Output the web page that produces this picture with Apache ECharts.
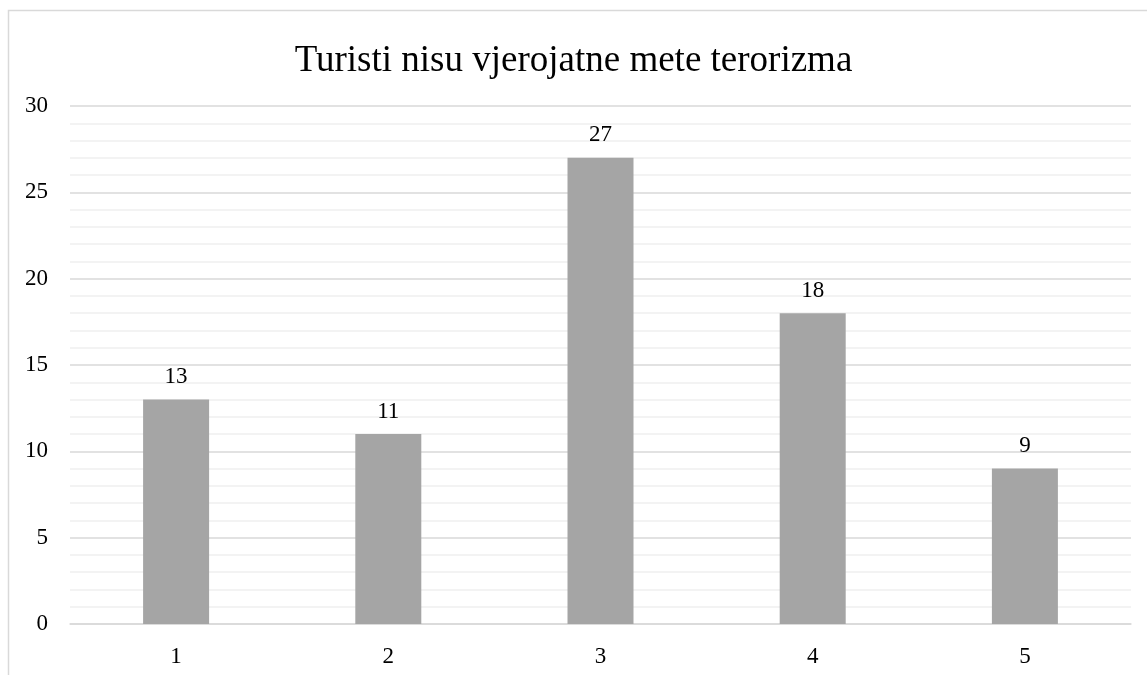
<!DOCTYPE html>
<html>
<head>
<meta charset="utf-8">
<script src="https://cdn.jsdelivr.net/npm/echarts@6/dist/echarts.min.js"></script>
<style>
  html, body { margin: 0; padding: 0; background: #fff; }
  #chart { width: 1147px; height: 675px; }
</style>
</head>
<body>
<div id="chart"></div>
<script>
const categories = ['1', '2', '3', '4', '5'];
const values = [13, 11, 27, 18, 9];
const chartTitle = 'Turisti nisu vjerojatne mete terorizma';

const chart = echarts.init(document.getElementById('chart'));
const serif = '"Liberation Serif", "Times New Roman", serif';

chart.setOption({
    backgroundColor: '#fff',
    animation: false,
    textStyle: { fontFamily: serif },
    title: {
        text: chartTitle,
        left: 'center',
        top: 38,
        textStyle: { fontFamily: serif, fontSize: 37, fontWeight: 'normal', color: '#000' }
    },
    graphic: [{
        type: 'rect',
        shape: { x: 8.5, y: 10.5, width: 1200, height: 700 },
        style: { fill: 'none', stroke: '#d9d9d9', lineWidth: 1.5 },
        silent: true
    }],
    grid: { left: 70, right: 16, top: 106, bottom: 51 },
    xAxis: {
        type: 'category',
        data: categories,
        axisLine: { lineStyle: { color: '#d9d9d9', width: 1.5 } },
        axisTick: { show: false },
        axisLabel: { color: '#000', fontSize: 23, fontFamily: serif, margin: 21 }
    },
    yAxis: {
        type: 'value',
        min: 0,
        max: 30,
        interval: 5,
        axisLine: { show: false },
        axisTick: { show: false },
        axisLabel: { color: '#000', fontSize: 23, fontFamily: serif, margin: 22 },
        splitLine: { lineStyle: { color: '#d9d9d9', width: 1.5 } },
        minorTick: { show: false, splitNumber: 5 },
        minorSplitLine: { show: true, lineStyle: { color: '#efefef', width: 1.5 } }
    },
    series: [{
        type: 'bar',
        data: values,
        barWidth: 66,
        itemStyle: { color: '#a5a5a5' },
        label: {
            show: true,
            position: 'top',
            distance: 11,
            color: '#000',
            fontSize: 23,
            fontFamily: serif
        }
    }]
});
</script>
</body>
</html>
